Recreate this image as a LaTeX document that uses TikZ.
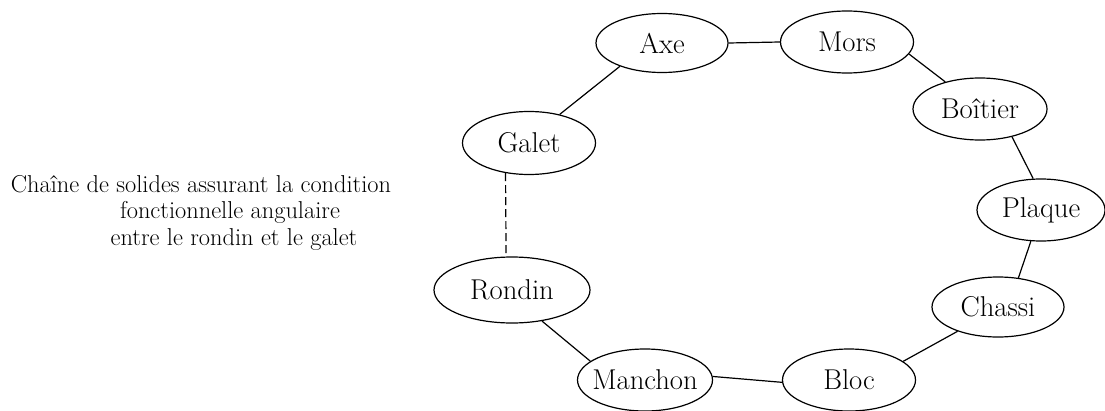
\documentclass[tikz,border=0pt]{standalone}
\usetikzlibrary{shapes.geometric}
\begin{document}
\begin{tikzpicture}[x=0.75pt,y=-0.75pt,
  part/.style={draw,ellipse,inner sep=0pt,line width=0.9pt,font=\fontsize{21.5}{24}\selectfont},
  link/.style={line width=0.9pt},
  dlink/.style={line width=0.9pt,dash pattern=on 6pt off 3pt},
  lbl/.style={anchor=base,inner sep=0pt,font=\fontsize{18.3}{22}\selectfont}]
\useasboundingbox (0,0) rectangle (1105,410);
\node[part,minimum width=99pt,minimum height=44.25pt] (axe) at (662,43) {\makebox[0pt]{Axe}};
\node[part,minimum width=99.75pt,minimum height=46.5pt] (mors) at (847,42) {\makebox[0pt]{Mors}};
\node[part,minimum width=100.5pt,minimum height=46.5pt] (boitier) at (980,109) {\makebox[0pt]{Boîtier}};
\node[part,minimum width=99.75pt,minimum height=47.25pt] (galet) at (529,143) {\makebox[0pt]{Galet}};
\node[part,minimum width=96pt,minimum height=46.5pt] (plaque) at (1041,210) {\makebox[0pt]{Plaque}};
\node[part,minimum width=99pt,minimum height=45pt] (chassi) at (998,307) {\makebox[0pt]{Chassi}};
\node[part,minimum width=117pt,minimum height=49.5pt] (rondin) at (512,290) {\makebox[0pt]{Rondin}};
\node[part,minimum width=101.25pt,minimum height=46.5pt] (manchon) at (645,380) {\makebox[0pt]{Manchon}};
\node[part,minimum width=99.75pt,minimum height=46.5pt] (bloc) at (849,380) {\makebox[0pt]{Bloc}};

\draw[link] (axe.east) -- (mors.west);
\draw[link] (axe.209) -- (galet.43);
\draw[link] (mors.-11) -- (boitier.142);
\draw[link] (boitier.-41) -- (plaque.104);
\draw[link] (plaque.252) -- (chassi.55);
\draw[link] (chassi.211) -- (bloc.19);
\draw[link] (bloc.182) -- (manchon.3);
\draw[link] (manchon.161) -- (rondin.-46);
\draw[dlink] (galet.232) -- (rondin.100);

\node[lbl] (t1) at (201,192) {Chaîne de solides assurant la condition};
\node[lbl] (t2) at (230,218.5) {fonctionnelle angulaire};
\node[lbl] (t3) at (234,245) {entre le rondin et le galet};
\end{tikzpicture}
\end{document}
